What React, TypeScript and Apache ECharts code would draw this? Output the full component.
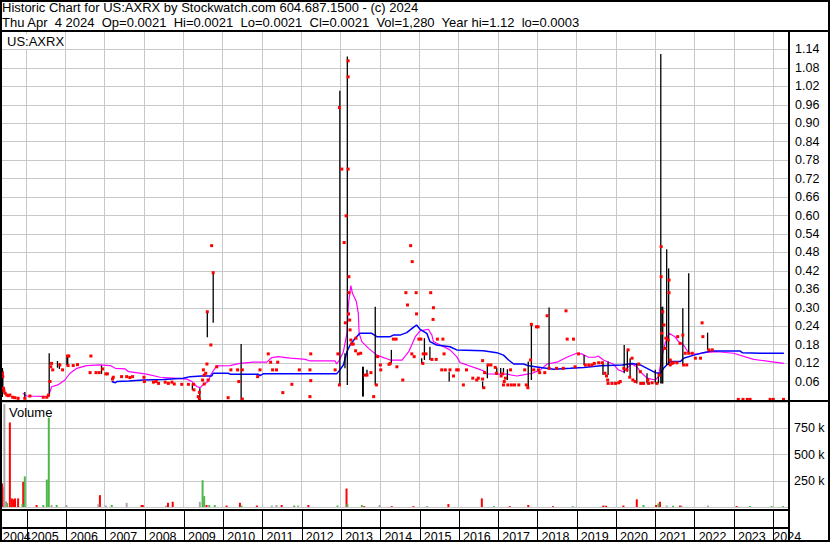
import React, { useEffect, useRef } from 'react';
import * as echarts from 'echarts';

const FONT = '"Liberation Sans", Arial, Helvetica, sans-serif';

// ---- header texts ----
const TITLE_LINE_1 = 'Historic Chart for US:AXRX by Stockwatch.com 604.687.1500 - (c) 2024';
const TITLE_LINE_2 = 'Thu Apr  4 2024  Op=0.0021  Hi=0.0021  Lo=0.0021  Cl=0.0021  Vol=1,280  Year hi=1.12  lo=0.0003';
const SYMBOL_LABEL = 'US:AXRX';
const VOLUME_LABEL = 'Volume';

// ---- time axis (decimal years) ----
const X_MIN = 2004.39;
const X_MAX = 2024.4;
const YEAR_STARTS = [2005, 2006, 2007, 2008, 2009, 2010, 2011, 2012, 2013, 2014, 2015, 2016, 2017, 2018, 2019, 2020, 2021, 2022, 2023, 2024];
const YEAR_LABEL_POS = [2004.39, 2005.1, 2006.1, 2007.1, 2008.1, 2009.1, 2010.1, 2011.1, 2012.1, 2013.1, 2014.1, 2015.1, 2016.1, 2017.1, 2018.1, 2019.1, 2020.1, 2021.1, 2022.1, 2023.1, 2024.0];

// ---- price axis ----
const PRICE_MAX = 1.2;
const PRICE_STEP = 0.06;
const VOL_MAX = 1000000;
const VOL_STEP = 250000;

// ---- daily closes [year, price] ----
const CLOSES: [number, number][] = [
  [2004.40, 0.087], [2004.41, 0.076], [2004.43, 0.038], [2004.44, 0.030], [2004.47, 0.022], [2004.51, 0.016], [2004.55, 0.014], [2004.59, 0.016],
  [2004.66, 0.009], [2004.72, 0.0075], [2004.80, 0.0055], [2004.97, 0.0055], [2005.10, 0.013], [2005.44, 0.009], [2005.53, 0.009], [2005.57, 0.016],
  [2005.61, 0.060], [2005.63, 0.108], [2005.65, 0.119], [2005.68, 0.098], [2005.86, 0.114], [2005.93, 0.098], [2006.06, 0.143], [2006.09, 0.143],
  [2006.07, 0.112], [2006.20, 0.112], [2006.31, 0.115], [2006.65, 0.143], [2006.63, 0.089], [2006.78, 0.089], [2006.86, 0.089], [2006.95, 0.101],
  [2007.03, 0.085], [2007.07, 0.085], [2007.20, 0.068], [2007.22, 0.074], [2007.43, 0.076], [2007.56, 0.076], [2007.64, 0.073], [2007.71, 0.076],
  [2008.00, 0.074], [2008.01, 0.060], [2008.24, 0.058], [2008.31, 0.060], [2008.37, 0.054], [2008.54, 0.058], [2008.62, 0.054], [2008.71, 0.058],
  [2008.77, 0.052], [2008.96, 0.051], [2009.13, 0.051], [2009.26, 0.051], [2009.27, 0.033], [2009.41, 0.025], [2009.38, 0.011], [2009.41, 0.003],
  [2009.49, 0.065], [2009.51, 0.098], [2009.53, 0.081], [2009.53, 0.052], [2009.57, 0.087], [2009.60, 0.117], [2009.63, 0.065], [2009.61, 0.287],
  [2009.70, 0.179], [2009.72, 0.502], [2009.76, 0.414], [2009.85, 0.108], [2010.14, 0.0075], [2010.21, 0.098], [2010.38, 0.098], [2010.41, 0.060],
  [2010.50, 0.098], [2010.50, 0.003], [2010.89, 0.076], [2010.95, 0.098], [2011.16, 0.150], [2011.22, 0.123], [2011.27, 0.098], [2011.37, 0.098],
  [2011.40, 0.123], [2011.53, 0.024], [2011.76, 0.051], [2011.95, 0.098], [2012.24, 0.150], [2012.22, 0.098], [2012.24, 0.063], [2012.22, 0.011],
  [2012.86, 0.098], [2012.93, 0.150], [2012.97, 0.049], [2012.97, 0.951], [2013.03, 0.751], [2013.09, 0.512], [2013.14, 0.599], [2013.12, 0.251],
  [2013.19, 1.103], [2013.19, 1.051], [2013.19, 0.751], [2013.21, 0.401], [2013.21, 0.349], [2013.20, 0.280], [2013.23, 0.260], [2013.24, 0.228],
  [2013.26, 0.195], [2013.28, 0.182], [2013.32, 0.182], [2013.38, 0.160], [2013.39, 0.201], [2013.45, 0.150], [2013.51, 0.152], [2013.62, 0.081],
  [2013.67, 0.081], [2013.77, 0.089], [2013.84, 0.011], [2013.91, 0.049], [2013.94, 0.141], [2014.01, 0.114], [2014.02, 0.098], [2014.23, 0.116],
  [2014.26, 0.119], [2014.43, 0.108], [2014.34, 0.198], [2014.41, 0.198], [2014.58, 0.065], [2014.66, 0.349], [2014.70, 0.309], [2014.78, 0.502],
  [2014.82, 0.450], [2014.81, 0.150], [2014.87, 0.141], [2014.92, 0.349], [2014.93, 0.280], [2014.99, 0.198], [2015.04, 0.198], [2015.09, 0.119],
  [2015.10, 0.150], [2015.17, 0.150], [2015.29, 0.349], [2015.32, 0.132], [2015.36, 0.300], [2015.35, 0.262], [2015.43, 0.132], [2015.46, 0.198],
  [2015.60, 0.198], [2015.63, 0.150], [2015.57, 0.098], [2015.66, 0.098], [2015.78, 0.098], [2015.87, 0.078], [2015.95, 0.098], [2015.99, 0.098],
  [2016.12, 0.049], [2016.20, 0.098], [2016.36, 0.071], [2016.46, 0.065], [2016.50, 0.071], [2016.61, 0.128], [2016.64, 0.040], [2016.66, 0.089],
  [2016.75, 0.114], [2016.61, 0.068], [2016.82, 0.114], [2016.93, 0.106], [2016.96, 0.087], [2017.08, 0.078], [2017.12, 0.085], [2017.16, 0.060],
  [2017.19, 0.071], [2017.14, 0.049], [2017.25, 0.049], [2017.34, 0.049], [2017.42, 0.049], [2017.32, 0.098], [2017.53, 0.049], [2017.68, 0.098],
  [2017.72, 0.049], [2017.76, 0.040], [2017.83, 0.130], [2017.85, 0.246], [2017.91, 0.098], [2017.98, 0.238], [2018.02, 0.238], [2018.03, 0.098],
  [2018.06, 0.089], [2018.19, 0.089], [2018.25, 0.274], [2018.30, 0.103], [2018.49, 0.103], [2018.66, 0.103], [2018.73, 0.290], [2018.76, 0.198],
  [2018.92, 0.198], [2018.96, 0.108], [2019.05, 0.150], [2019.22, 0.114], [2019.31, 0.114], [2019.39, 0.114], [2019.45, 0.119], [2019.56, 0.121],
  [2019.65, 0.121], [2019.72, 0.087], [2019.76, 0.078], [2019.79, 0.065], [2019.80, 0.054], [2019.90, 0.054], [2019.99, 0.054], [2020.07, 0.056],
  [2020.11, 0.060], [2020.20, 0.103], [2020.28, 0.098], [2020.31, 0.163], [2020.35, 0.074], [2020.41, 0.136], [2020.43, 0.065], [2020.49, 0.060],
  [2020.58, 0.117], [2020.62, 0.092], [2020.63, 0.054], [2020.70, 0.054], [2020.81, 0.065], [2020.83, 0.054], [2020.92, 0.056], [2021.04, 0.054],
  [2021.10, 0.081], [2021.15, 0.499], [2021.15, 0.401], [2021.16, 0.217], [2021.19, 0.287], [2021.22, 0.244], [2021.25, 0.168], [2021.27, 0.201],
  [2021.35, 0.390], [2021.35, 0.349], [2021.33, 0.195], [2021.38, 0.130], [2021.38, 0.114], [2021.42, 0.119], [2021.46, 0.121], [2021.55, 0.121],
  [2021.57, 0.206], [2021.63, 0.184], [2021.70, 0.211], [2021.72, 0.114], [2021.80, 0.114], [2021.76, 0.152], [2021.85, 0.152], [2021.94, 0.152],
  [2022.02, 0.136], [2022.15, 0.136], [2022.19, 0.251], [2022.21, 0.206], [2022.36, 0.163], [2022.45, 0.163], [2023.11, 0.002], [2023.23, 0.002],
  [2023.34, 0.002], [2023.41, 0.002], [2023.92, 0.002], [2024.00, 0.002], [2024.26, 0.002],
];

// ---- daily high / low ranges [year, high, low] ----
const HIGH_LOW: [number, number, number][] = [
  [2004.40, 0.104, 0.010], [2004.41, 0.095, 0.020], [2004.97, 0.026, 0.003], [2005.59, 0.152, 0.011], [2005.80, 0.127, 0.105], [2005.85, 0.120, 0.101],
  [2006.04, 0.146, 0.112], [2006.06, 0.146, 0.112], [2006.92, 0.112, 0.085], [2009.23, 0.054, 0.033], [2009.42, 0.038, 0.001], [2009.61, 0.287, 0.204],
  [2009.76, 0.414, 0.251], [2010.47, 0.182, 0.001], [2012.98, 1.006, 0.049], [2013.11, 0.152, 0.103], [2013.17, 1.117, 0.049], [2013.56, 0.108, 0.011],
  [2013.575, 0.108, 0.011], [2013.67, 0.098, 0.081], [2013.88, 0.303, 0.049], [2014.29, 0.163, 0.119], [2015.06, 0.136, 0.119], [2015.13, 0.201, 0.130],
  [2015.27, 0.173, 0.130], [2015.76, 0.092, 0.060], [2016.61, 0.060, 0.038], [2016.73, 0.114, 0.071], [2016.97, 0.106, 0.081], [2017.07, 0.104, 0.085],
  [2017.14, 0.104, 0.089], [2017.24, 0.100, 0.065], [2017.77, 0.125, 0.038], [2017.85, 0.246, 0.065], [2018.30, 0.301, 0.103], [2019.19, 0.146, 0.114],
  [2019.67, 0.125, 0.081], [2019.80, 0.125, 0.081], [2020.21, 0.179, 0.087], [2020.29, 0.163, 0.092], [2020.36, 0.136, 0.076], [2020.53, 0.119, 0.054],
  [2020.79, 0.087, 0.054], [2021.00, 0.098, 0.054], [2021.08, 0.087, 0.054], [2021.14, 1.125, 0.054], [2021.17, 0.303, 0.054], [2021.19, 0.303, 0.054],
  [2021.29, 0.490, 0.114], [2021.34, 0.428, 0.114], [2021.70, 0.298, 0.114], [2021.85, 0.412, 0.152], [2022.33, 0.219, 0.163],
];

// ---- short moving average (magenta) ----
const MA_SHORT: [number, number][] = [
  [2004.92, 0.022], [2005.02, 0.013], [2005.57, 0.011], [2005.61, 0.027], [2005.65, 0.043], [2005.81, 0.049], [2005.99, 0.065], [2006.12, 0.087],
  [2006.29, 0.103], [2006.54, 0.112], [2006.88, 0.114], [2007.14, 0.112], [2007.27, 0.103], [2007.52, 0.101], [2007.61, 0.092], [2008.07, 0.084],
  [2008.41, 0.074], [2008.75, 0.071], [2009.09, 0.068], [2009.22, 0.060], [2009.35, 0.043], [2009.43, 0.040], [2009.50, 0.049], [2009.63, 0.060],
  [2009.72, 0.087], [2009.85, 0.111], [2010.19, 0.112], [2010.44, 0.119], [2010.78, 0.123], [2011.12, 0.123], [2011.25, 0.138], [2011.41, 0.141],
  [2011.72, 0.136], [2011.97, 0.134], [2012.10, 0.132], [2012.22, 0.127], [2012.86, 0.127], [2012.90, 0.117], [2012.97, 0.130], [2013.07, 0.157],
  [2013.16, 0.217], [2013.20, 0.314], [2013.26, 0.372], [2013.30, 0.347], [2013.40, 0.320], [2013.45, 0.282], [2013.47, 0.217], [2013.54, 0.190],
  [2013.71, 0.168], [2013.92, 0.146], [2014.26, 0.130], [2014.56, 0.130], [2014.73, 0.157], [2014.90, 0.206], [2015.02, 0.225], [2015.23, 0.230],
  [2015.32, 0.211], [2015.36, 0.190], [2015.53, 0.179], [2015.78, 0.163], [2015.95, 0.141], [2016.04, 0.121], [2016.21, 0.114], [2016.46, 0.103],
  [2016.63, 0.095], [2016.72, 0.085], [2017.23, 0.084], [2017.48, 0.078], [2017.61, 0.081], [2017.87, 0.087], [2018.08, 0.098], [2018.25, 0.117],
  [2018.50, 0.123], [2018.75, 0.139], [2019.00, 0.152], [2019.13, 0.150], [2019.30, 0.139], [2019.47, 0.139], [2019.55, 0.143], [2019.68, 0.130],
  [2019.77, 0.125], [2019.93, 0.117], [2020.06, 0.098], [2020.19, 0.092], [2020.32, 0.108], [2020.40, 0.117], [2020.53, 0.108], [2020.62, 0.092],
  [2020.79, 0.071], [2021.00, 0.065], [2021.08, 0.076], [2021.17, 0.141], [2021.25, 0.184], [2021.35, 0.217], [2021.50, 0.206], [2021.59, 0.190],
  [2021.72, 0.179], [2021.85, 0.152], [2022.06, 0.149], [2022.23, 0.154], [2022.57, 0.157], [2022.99, 0.152], [2023.50, 0.132], [2023.93, 0.125],
  [2024.27, 0.119],
];

// ---- long moving average (blue) ----
const MA_LONG: [number, number][] = [
  [2007.18, 0.060], [2007.27, 0.056], [2007.31, 0.060], [2007.61, 0.062], [2007.98, 0.065], [2008.49, 0.067], [2009.00, 0.071], [2009.17, 0.076],
  [2009.47, 0.078], [2009.72, 0.078], [2009.76, 0.087], [2010.14, 0.087], [2010.19, 0.084], [2010.91, 0.084], [2010.95, 0.079], [2011.03, 0.085],
  [2012.90, 0.085], [2012.98, 0.098], [2013.07, 0.114], [2013.16, 0.157], [2013.24, 0.179], [2013.37, 0.201], [2013.49, 0.217], [2013.79, 0.217],
  [2013.92, 0.206], [2014.26, 0.206], [2014.34, 0.211], [2014.51, 0.211], [2014.68, 0.219], [2014.85, 0.236], [2014.93, 0.244], [2015.02, 0.230],
  [2015.19, 0.217], [2015.27, 0.190], [2015.44, 0.179], [2015.78, 0.173], [2015.95, 0.163], [2016.63, 0.160], [2016.97, 0.154], [2017.14, 0.146],
  [2017.27, 0.130], [2017.40, 0.117], [2017.65, 0.117], [2017.78, 0.111], [2018.08, 0.106], [2018.42, 0.100], [2018.84, 0.103], [2019.18, 0.106],
  [2019.61, 0.111], [2020.16, 0.114], [2020.41, 0.119], [2020.62, 0.114], [2020.79, 0.103], [2021.00, 0.089], [2021.13, 0.087], [2021.21, 0.103],
  [2021.38, 0.125], [2021.64, 0.125], [2021.72, 0.136], [2021.98, 0.146], [2022.23, 0.154], [2022.40, 0.159], [2023.16, 0.159], [2023.21, 0.154],
  [2023.67, 0.152], [2024.27, 0.152],
];

// ---- volume [year, shares] by day colour ----
const VOL_DOWN: [number, number][] = [
  [2004.39, 224000], [2004.41, 190000], [2004.49, 50000], [2004.59, 805000], [2004.64, 82000], [2004.68, 73000], [2004.72, 82000], [2004.80, 82000],
  [2004.93, 239000], [2005.27, 19000], [2006.88, 113000], [2007.94, 19000], [2007.97, 19000], [2008.61, 40000], [2008.73, 50000], [2009.59, 19000],
  [2010.10, 14000], [2010.44, 40000], [2010.87, 14000], [2011.50, 19000], [2012.18, 19000], [2013.15, 176000], [2013.60, 8000], [2014.30, 8000],
  [2014.85, 8000], [2015.74, 28000], [2016.59, 82000], [2017.30, 8000], [2017.77, 19000], [2018.40, 8000], [2019.68, 14000], [2019.75, 12000],
  [2020.19, 14000], [2020.53, 73000], [2021.02, 19000], [2021.12, 50000], [2021.63, 14000], [2023.07, 9000],
];
const VOL_UP: [number, number][] = [
  [2004.52, 38000], [2004.91, 28000], [2004.97, 292000], [2005.44, 19000], [2005.53, 261000], [2005.58, 852000], [2005.78, 19000], [2007.18, 19000],
  [2009.49, 255000], [2009.53, 104000], [2009.66, 19000], [2009.80, 19000], [2010.48, 14000], [2011.82, 14000], [2012.92, 14000], [2013.17, 28000],
  [2013.54, 19000], [2015.20, 8000], [2016.90, 8000], [2018.90, 8000], [2020.70, 19000], [2021.08, 35000], [2021.45, 12000], [2023.41, 9000],
  [2023.96, 9000], [2024.25, 9000],
];
const VOL_FLAT: [number, number][] = [
  [2004.45, 978000], [2004.48, 50000], [2005.65, 19000], [2006.03, 19000], [2006.84, 28000], [2007.03, 14000], [2007.56, 40000], [2008.56, 14000],
  [2009.42, 50000], [2011.25, 14000], [2011.37, 19000], [2011.92, 14000], [2013.99, 19000], [2021.29, 14000], [2021.67, 14000], [2022.34, 14000],
];

const GRID_GRAY = '#c8c8c8';

function xAxisFor(gridIndex: number) {
  return {
    type: 'value',
    gridIndex,
    min: X_MIN,
    max: X_MAX,
    axisLine: { show: false },
    axisTick: { show: false, customValues: YEAR_STARTS },
    axisLabel: { show: false },
    splitLine: { show: true, lineStyle: { color: GRID_GRAY, width: 1 } },
  };
}

function buildOption() {
  const hiLoRender = (params: any, api: any) => {
    const x = api.value(0);
    const p1 = api.coord([x, api.value(1)]);
    const p2 = api.coord([x, api.value(2)]);
    return {
      type: 'line',
      shape: { x1: p1[0], y1: p1[1], x2: p2[0], y2: p2[1] },
      style: { stroke: '#000000', lineWidth: 1.3 },
    };
  };

  const volSeries = (data: [number, number][], color: string) => ({
    type: 'bar',
    xAxisIndex: 1,
    yAxisIndex: 1,
    data,
    barWidth: 2,
    barGap: '-100%',
    itemStyle: { color, opacity: 1 },
    silent: true,
  });

  return {
    animation: false,
    backgroundColor: '#ffffff',
    textStyle: { fontFamily: FONT },
    title: [
      {
        text: TITLE_LINE_1,
        left: 2,
        top: 1,
        padding: 0,
        textStyle: { fontSize: 13, fontWeight: 'normal', color: '#000', fontFamily: FONT },
      },
      {
        text: TITLE_LINE_2,
        left: 2,
        top: 16,
        padding: 0,
        textStyle: { fontSize: 13, fontWeight: 'normal', color: '#000', fontFamily: FONT },
      },
    ],
    grid: [
      { left: 2, top: 31, width: 787, height: 369 },
      { left: 2, top: 402, width: 787, height: 105 },
      { left: 2, top: 510, width: 787, height: 18 },
    ],
    xAxis: [
      xAxisFor(0),
      xAxisFor(1),
      {
        type: 'value',
        gridIndex: 2,
        min: X_MIN,
        max: X_MAX,
        axisLine: { show: true, onZero: false, lineStyle: { color: '#000', width: 2 } },
        axisTick: { show: true, customValues: YEAR_STARTS, length: 13, lineStyle: { color: '#000', width: 1 } },
        splitLine: { show: true, lineStyle: { color: '#000', width: 1 } },
        axisLabel: {
          show: true,
          customValues: YEAR_LABEL_POS,
          formatter: (v: number) => String(Math.floor(v + 1e-6)),
          align: 'left',
          margin: 2,
          fontSize: 12.5,
          color: '#000',
          fontFamily: FONT,
          showMinLabel: true,
          showMaxLabel: true,
          hideOverlap: false,
        },
      },
    ],
    yAxis: [
      {
        type: 'value',
        gridIndex: 0,
        position: 'right',
        min: 0,
        max: PRICE_MAX,
        interval: PRICE_STEP,
        axisLine: { show: false },
        axisTick: { show: false },
        axisLabel: {
          margin: 6,
          fontSize: 12.5,
          color: '#000',
          fontFamily: FONT,
          formatter: (v: number) => (v < 0.03 || v > PRICE_MAX - 0.03 ? '' : v.toFixed(2)),
        },
        splitLine: { show: true, lineStyle: { color: GRID_GRAY, width: 1 } },
      },
      {
        type: 'value',
        gridIndex: 1,
        position: 'right',
        min: 0,
        max: VOL_MAX,
        interval: VOL_STEP,
        axisLine: { show: false },
        axisTick: { show: false },
        axisLabel: {
          margin: 5,
          fontSize: 12.5,
          color: '#000',
          fontFamily: FONT,
          formatter: (v: number) => (v <= 0 || v >= VOL_MAX ? '' : `${v / 1000} k`),
        },
        splitLine: { show: true, lineStyle: { color: GRID_GRAY, width: 1 } },
      },
      {
        type: 'value',
        gridIndex: 2,
        min: 0,
        max: 1,
        show: false,
        splitLine: { show: false },
      },
    ],
    series: [
      {
        type: 'line',
        name: 'MA short',
        xAxisIndex: 0,
        yAxisIndex: 0,
        data: MA_SHORT,
        symbol: 'none',
        showSymbol: false,
        lineStyle: { color: '#ff00ff', width: 1.2 },
        z: 2,
        silent: true,
      },
      {
        type: 'line',
        name: 'MA long',
        xAxisIndex: 0,
        yAxisIndex: 0,
        data: MA_LONG,
        symbol: 'none',
        showSymbol: false,
        lineStyle: { color: '#0000ff', width: 1.5 },
        z: 2,
        silent: true,
      },
      {
        type: 'custom',
        name: 'High-Low',
        xAxisIndex: 0,
        yAxisIndex: 0,
        data: HIGH_LOW,
        encode: { x: 0, y: [1, 2] },
        renderItem: hiLoRender,
        clip: true,
        z: 3,
        silent: true,
      },
      {
        type: 'scatter',
        name: 'Close',
        xAxisIndex: 0,
        yAxisIndex: 0,
        data: CLOSES,
        symbol: 'rect',
        symbolSize: 3,
        itemStyle: { color: '#ff0000', opacity: 1 },
        z: 4,
        silent: true,
      },
      volSeries(VOL_DOWN, '#ff0000'),
      volSeries(VOL_UP, '#4cb84c'),
      volSeries(VOL_FLAT, '#a8a8a8'),
    ],
    graphic: [
      {
        type: 'text',
        left: 6,
        top: 34,
        z: 50,
        style: {
          text: SYMBOL_LABEL,
          fontSize: 13,
          fontFamily: FONT,
          fill: '#000',
          backgroundColor: '#ffffff',
          padding: [1, 1, 1, 1],
        },
      },
      {
        type: 'text',
        left: 9,
        top: 406,
        z: 50,
        style: { text: VOLUME_LABEL, fontSize: 13, fontFamily: FONT, fill: '#000' },
      },
      { type: 'line', z: 60, shape: { x1: 0, y1: 31, x2: 830, y2: 31 }, style: { stroke: '#000', lineWidth: 2 } },
      { type: 'line', z: 60, shape: { x1: 0, y1: 401, x2: 830, y2: 401 }, style: { stroke: '#000', lineWidth: 2 } },
      { type: 'line', z: 60, shape: { x1: 0, y1: 510, x2: 790, y2: 510 }, style: { stroke: '#000', lineWidth: 2 } },
      { type: 'line', z: 60, shape: { x1: 789, y1: 31, x2: 789, y2: 541 }, style: { stroke: '#000', lineWidth: 2 } },
      { type: 'rect', z: 60, shape: { x: 1, y: 1, width: 828, height: 540 }, style: { fill: 'none', stroke: '#000', lineWidth: 2 } },
    ],
  };
}

export default function App() {
  const ref = useRef<HTMLDivElement>(null);
  useEffect(() => {
    document.body.style.margin = '0';
    if (!ref.current) return;
    const chart = echarts.init(ref.current, null, { renderer: 'svg' });
    chart.setOption(buildOption() as any);
    return () => {
      chart.dispose();
    };
  }, []);
  return <div ref={ref} style={{ width: 830, height: 543 }} />;
}
